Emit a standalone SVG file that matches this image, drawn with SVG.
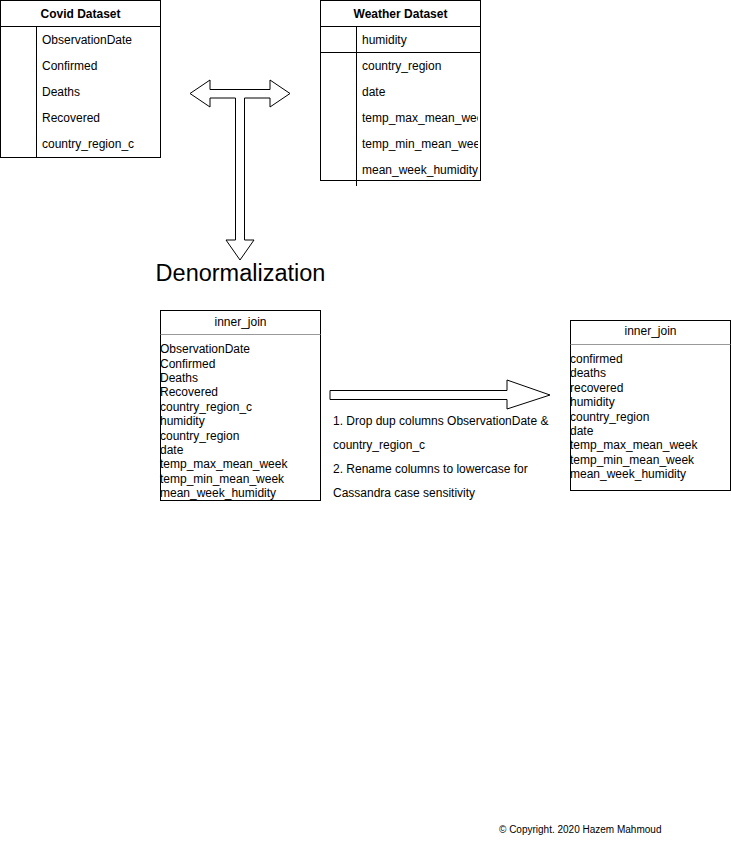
<svg xmlns="http://www.w3.org/2000/svg" width="731" height="841" viewBox="0 0 731 841">
<style>
text{font-family:"Liberation Sans",Arial,Helvetica,sans-serif;font-size:12px;fill:#000}
.h{font-weight:bold;text-anchor:middle}
.c{text-anchor:middle}
.box{fill:#fff;stroke:#000;stroke-width:1}
.ln{stroke:#000;stroke-width:1;fill:none}
.sep{stroke:#999;stroke-width:1;fill:none}
.arrow{fill:#fff;stroke:#000;stroke-width:1;stroke-linejoin:miter}
</style>
<defs>
<clipPath id="wclip"><rect x="356" y="26" width="122" height="155"/></clipPath>
</defs>
<rect width="731" height="841" fill="#fff"/>

<g id="covid">
<rect class="box" x="0.5" y="0.5" width="160" height="157"/>
<line class="ln" x1="0.5" y1="26.5" x2="160.5" y2="26.5"/>
<line class="ln" x1="36.5" y1="26.5" x2="36.5" y2="157.5"/>
<text class="h" x="80.5" y="18">Covid Dataset</text>
<text x="42" y="44">ObservationDate</text>
<text x="42" y="70">Confirmed</text>
<text x="42" y="96">Deaths</text>
<text x="42" y="122">Recovered</text>
<text x="42" y="148">country_region_c</text>
</g>

<g id="weather">
<rect class="box" x="320.5" y="0.5" width="160" height="180"/>
<line class="ln" x1="320.5" y1="26.5" x2="480.5" y2="26.5"/>
<line class="ln" x1="320.5" y1="52.5" x2="480.5" y2="52.5"/>
<line class="ln" x1="356.5" y1="26.5" x2="356.5" y2="186"/>
<text class="h" x="400.5" y="18">Weather Dataset</text>
<g clip-path="url(#wclip)">
<text x="362" y="44">humidity</text>
<text x="362" y="70">country_region</text>
<text x="362" y="96">date</text>
<text x="362" y="122">temp_max_mean_week</text>
<text x="362" y="148">temp_min_mean_week</text>
<text x="362" y="174">mean_week_humidity</text>
</g>
</g>

<g id="connectors">
<polygon class="arrow" points="190,93.5 210,80 210,89.5 270,89.5 270,80 290,93.5 270,107 270,98 244.5,98 244.5,240 254,240 240,260 226,240 235.5,240 235.5,98 210,98 210,107"/>
<polygon class="arrow" points="330,390.5 507,390.5 507,380 550,395 507,409 507,399.5 330,399.5"/>
</g>

<g id="denorm-label">
<text x="240.5" y="281" class="c" style="font-size:23.5px">Denormalization</text>
</g>

<g id="inner-join-1">
<rect class="box" x="160.5" y="310.5" width="160" height="190"/>
<line class="sep" x1="160.5" y1="334.5" x2="320.5" y2="334.5"/>
<text class="c" x="240.5" y="326">inner_join</text>
<text x="160" y="353">ObservationDate</text>
<text x="160" y="368">Confirmed</text>
<text x="160" y="382">Deaths</text>
<text x="160" y="396">Recovered</text>
<text x="160" y="411">country_region_c</text>
<text x="160" y="425">humidity</text>
<text x="160" y="440">country_region</text>
<text x="160" y="454">date</text>
<text x="160" y="468">temp_max_mean_week</text>
<text x="160" y="483">temp_min_mean_week</text>
<text x="160" y="497">mean_week_humidity</text>
</g>

<g id="transform-notes">
<text x="333" y="425">1. Drop dup columns ObservationDate &amp;</text>
<text x="333" y="449">country_region_c</text>
<text x="333" y="473">2. Rename columns to lowercase for</text>
<text x="333" y="497">Cassandra case sensitivity</text>
</g>

<g id="inner-join-2">
<rect class="box" x="570.5" y="320.5" width="160" height="170"/>
<line class="sep" x1="570.5" y1="344.5" x2="730.5" y2="344.5"/>
<text class="c" x="650.5" y="335">inner_join</text>
<text x="570" y="363">confirmed</text>
<text x="570" y="377">deaths</text>
<text x="570" y="392">recovered</text>
<text x="570" y="406">humidity</text>
<text x="570" y="421">country_region</text>
<text x="570" y="435">date</text>
<text x="570" y="449">temp_max_mean_week</text>
<text x="570" y="464">temp_min_mean_week</text>
<text x="570" y="478">mean_week_humidity</text>
</g>

<g id="copyright">
<text x="499" y="833" style="font-size:10px">© Copyright. 2020 Hazem Mahmoud</text>
</g>
</svg>
